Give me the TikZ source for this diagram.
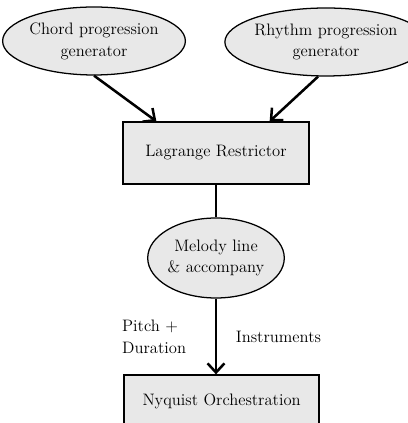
\documentclass[tikz,border=0pt]{standalone}
\usepackage{amsmath}
\usepackage{tikz}
\usetikzlibrary{arrows.meta, shapes.geometric}

\begin{document}
\begin{tikzpicture}[node distance=2.5cm,
    every node/.style={font=\fontsize{11.8}{15.5}\selectfont, align=center},
    oval/.style={draw, ellipse, fill=gray!18, line width=0.9pt, minimum width=4.2cm, minimum height=1.7cm, inner sep=0pt},
    block/.style={draw, rectangle, fill=gray!18, line width=0.9pt, minimum width=4.65cm, minimum height=1.55cm},
    flow/.style={line width=1.8pt, -{Straight Barb[length=6.5pt, width=12pt, line width=1.8pt]}}]
        \useasboundingbox (0,0) rectangle (10.2,10.575);
        \node[oval] (chord) at (2.35,9.55) {Chord progression\\generator};
        \node[oval, minimum width=4.1cm] (rhythm) at (8.15,9.525) {Rhythm progression\\generator};
        \node[block] (lagrange) at (5.4,6.75) {Lagrange Restrictor};
        \node[oval, minimum width=3.33cm, minimum height=2cm] (melody) [below of=lagrange, yshift=-0.125cm] {Melody line\\\& accompany};
        \node[block, minimum width=4.875cm, minimum height=1.3cm] (nyquist) at (5.54,0.55) {Nyquist Orchestration};
        
        \draw[flow] (chord.south) -- ([xshift=0.85cm]lagrange.north west);
        \draw[flow] ([xshift=-0.2cm]rhythm.south) -- ([xshift=-1cm]lagrange.north east);
        \draw[line width=1.8pt] (lagrange) -- (melody);
        \draw[flow] (melody.south) -- (melody.south |- nyquist.north)
            node[midway, left=0.6cm, align=left] {Pitch +\\Duration}
            node[midway, right=0.35cm] {Instruments};
    \end{tikzpicture}
\end{document}
